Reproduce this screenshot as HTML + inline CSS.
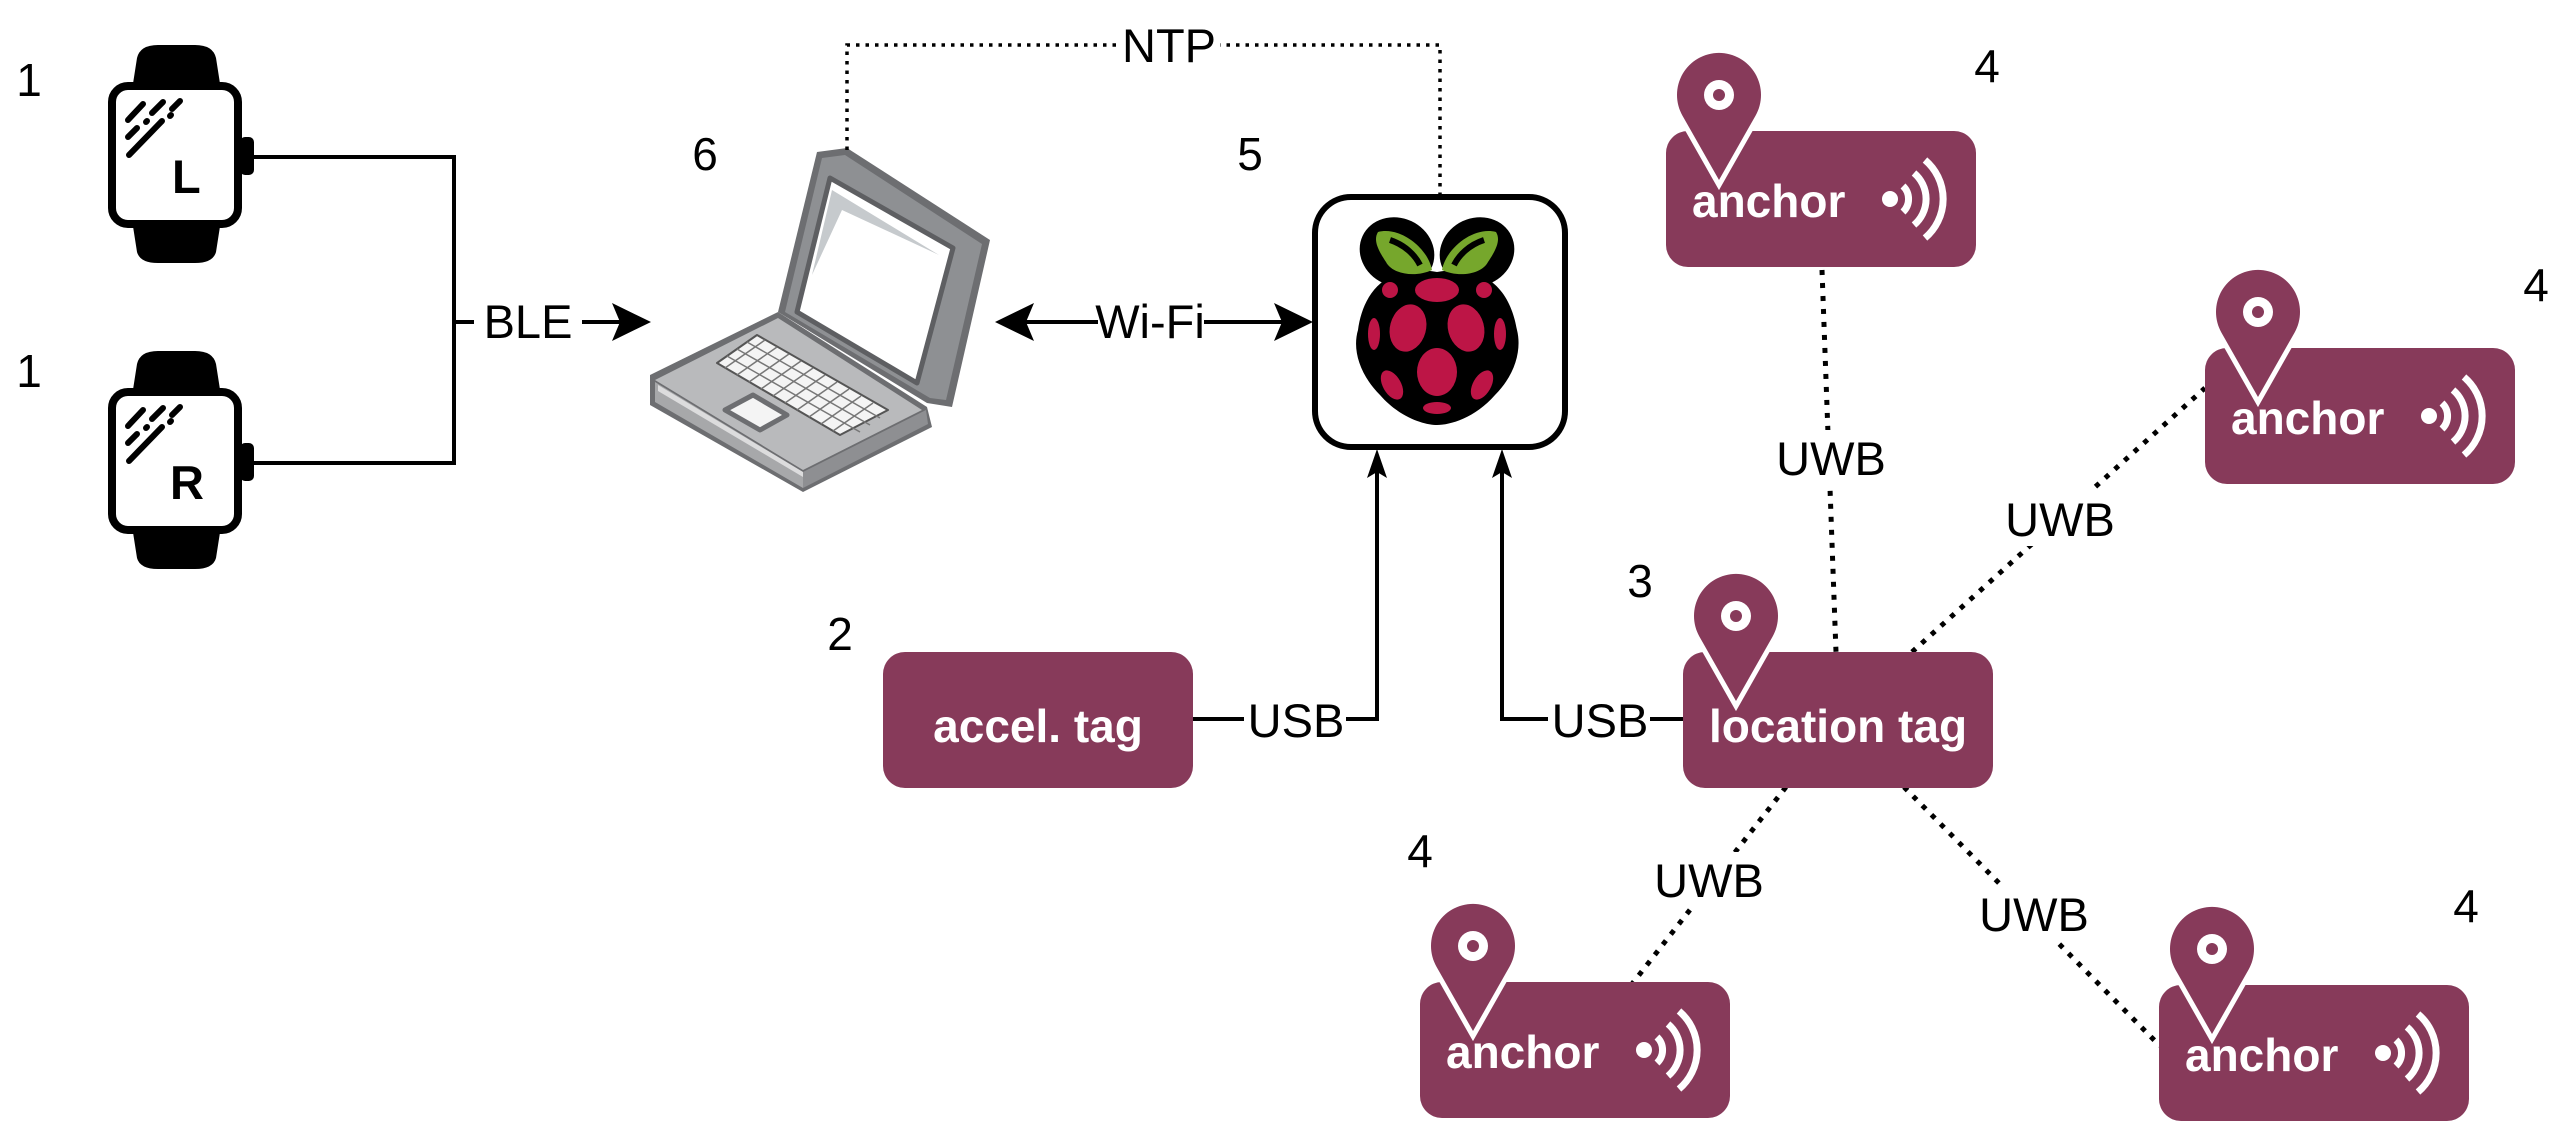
<!DOCTYPE html>
<html><head><meta charset="utf-8"><style>
html,body{margin:0;padding:0;background:#fff;}
svg{display:block;}
text{font-family:"Liberation Sans",sans-serif;}
.lbl{font-size:47px;fill:#000;text-anchor:middle;}
.num{font-size:46px;fill:#000;text-anchor:middle;}
.wt{font-size:46px;font-weight:bold;fill:#fff;}
</style></head><body>
<svg width="2575" height="1142" viewBox="0 0 2575 1142" xmlns="http://www.w3.org/2000/svg">
<defs>
<g id="anchor">
  <rect x="0" y="0" width="310" height="136" rx="22" fill="#873a5a"/>
  <path d="M53,49 L16.5,-15.3 A42,42 0 1 1 89.5,-15.3 Z" fill="#873a5a" stroke="#fff" stroke-width="10" stroke-linejoin="miter" paint-order="stroke"/>
  <circle cx="53" cy="-36" r="15" fill="#fff"/>
  <circle cx="53" cy="-36" r="6" fill="#873a5a"/>
  <text x="26" y="86" class="wt">anchor</text>
  <circle cx="224" cy="68" r="8" fill="#fff"/>
  <g fill="none" stroke="#fff" stroke-width="7">
    <path d="M237,55 A18,18 0 0 1 237,81"/>
    <path d="M248,42 A34,34 0 0 1 248,94"/>
    <path d="M259,29 A51,51 0 0 1 259,107"/>
  </g>
</g>
<g id="watch">
  <path d="M132,90 L137,58 Q140,45 158,45 L195,45 Q213,45 216,58 L221,90 Z" fill="#000"/>
  <path d="M132,220 L137,252 Q140,263 158,263 L195,263 Q213,263 216,252 L221,220 Z" fill="#000"/>
  <rect x="112" y="86" width="126" height="138" rx="16" fill="#fff" stroke="#000" stroke-width="8"/>
  <rect x="240" y="137" width="14" height="38" rx="5" fill="#000"/>
  <g stroke="#000" stroke-width="6" stroke-linecap="round">
    <line x1="128" y1="120" x2="143" y2="104"/>
    <line x1="152" y1="113" x2="163" y2="102"/>
    <line x1="172" y1="109" x2="180" y2="101"/>
    <line x1="128" y1="137" x2="137" y2="128"/>
    <line x1="146" y1="122" x2="147" y2="121"/>
    <line x1="170" y1="116" x2="171" y2="115"/>
    <line x1="129" y1="155" x2="162" y2="121"/>
  </g>
</g>
</defs>

<!-- watches -->
<use href="#watch"/>
<text x="172" y="193" style="font-size:47px;font-weight:bold">L</text>
<use href="#watch" transform="translate(0,306)"/>
<text x="170" y="499" style="font-size:47px;font-weight:bold">R</text>
<text x="29" y="96" class="num">1</text>
<text x="29" y="387" class="num">1</text>

<!-- BLE -->
<g stroke="#000" stroke-width="4" fill="none">
  <polyline points="254,157 454,157 454,463 254,463"/>
  <line x1="454" y1="322" x2="632" y2="322"/>
</g>
<rect x="474" y="300" width="108" height="44" fill="#fff"/>
<text x="528" y="338" class="lbl">BLE</text>
<path d="M651,322 L612,303 L620,322 L612,341 Z" fill="#000"/>

<!-- laptop -->
<g stroke-linejoin="round">
  <path d="M650,375 L778,312 L927,407 L932,427 L803,492 L650,405 Z" fill="#6d6e71"/>
  <path d="M655,380 L778,318 L922,410 L803,470 Z" fill="#b9babc"/>
  <path d="M655,382 L803,472 L803,488 L655,402 Z" fill="#a7a8aa"/>
  <path d="M658,385 L803,472 L803,477 L658,391 Z" fill="#dcdcdd"/>
  <path d="M803,472 L926,410 L928,424 L803,488 Z" fill="#8e8f92"/>
  <path d="M717,363 L757,335 L888,410 L840,435 Z" fill="#f4f4f4" stroke="#555" stroke-width="2"/>
  <g stroke="#777" stroke-width="1.5">
    <line x1="725" y1="368" x2="765" y2="340"/><line x1="737" y1="375" x2="777" y2="347"/>
    <line x1="749" y1="382" x2="789" y2="354"/><line x1="761" y1="389" x2="801" y2="361"/>
    <line x1="773" y1="396" x2="813" y2="368"/><line x1="785" y1="403" x2="825" y2="375"/>
    <line x1="797" y1="410" x2="837" y2="382"/><line x1="809" y1="417" x2="849" y2="389"/>
    <line x1="821" y1="424" x2="861" y2="396"/><line x1="833" y1="431" x2="873" y2="403"/>
    <line x1="727" y1="356" x2="860" y2="432"/><line x1="737" y1="349" x2="870" y2="425"/><line x1="747" y1="342" x2="880" y2="418"/>
  </g>
  <path d="M725,410 L753,395 L787,415 L760,430 Z" fill="#f4f4f4" stroke="#6d6e71" stroke-width="5"/>
  <path d="M817,152 L847,148 L990,240 L952,407 L927,403 L778,312 Z" fill="#6d6e71"/>
  <path d="M822,158 L845,155 L982,244 L946,400 L930,398 L785,312 Z" fill="#8e9093"/>
  <path d="M830,178 L953,248 L917,383 L797,312 Z" fill="#fff" stroke="#5e5f62" stroke-width="5"/>
  <path d="M832,190 L939,255 L842,210 L812,275 Z" fill="#c6cacd"/>
</g>
<text x="705" y="170" class="num">6</text>

<!-- NTP -->
<polyline points="847,150 847,45 1440,45 1440,194" fill="none" stroke="#000" stroke-width="3.5" stroke-dasharray="3.5 6"/>
<rect x="1120" y="24" width="100" height="44" fill="#fff"/>
<text x="1169" y="62" class="lbl">NTP</text>

<!-- Wi-Fi -->
<line x1="1010" y1="322" x2="1295" y2="322" stroke="#000" stroke-width="4"/>
<rect x="1098" y="298" width="106" height="46" fill="#fff"/>
<text x="1150" y="338" class="lbl">Wi-Fi</text>
<path d="M995,322 L1034,303 L1026,322 L1034,341 Z" fill="#000"/>
<path d="M1313,322 L1274,303 L1282,322 L1274,341 Z" fill="#000"/>

<!-- RPi -->
<rect x="1315" y="197" width="250" height="250" rx="36" fill="#fff" stroke="#000" stroke-width="6"/>
<g>
  <ellipse cx="1397" cy="252" rx="38" ry="34" fill="#000" transform="rotate(25 1397 252)"/>
  <ellipse cx="1477" cy="252" rx="38" ry="34" fill="#000" transform="rotate(-25 1477 252)"/>
  <path d="M1437,272 C1380,262 1362,300 1358,330 C1352,350 1360,375 1380,395 C1400,418 1425,425 1437,425 C1450,425 1475,418 1495,395 C1515,375 1522,350 1517,330 C1512,300 1494,262 1437,272 Z" fill="#000"/>
  <path d="M1378,232 C1400,226 1428,248 1432,270 C1415,278 1392,274 1386,262 C1378,250 1373,240 1378,232 Z" fill="#76a72c"/>
  <path d="M1496,232 C1474,226 1446,248 1442,270 C1459,278 1482,274 1488,262 C1496,250 1501,240 1496,232 Z" fill="#76a72c"/>
  <path d="M1390,240 C1405,245 1415,255 1420,265" stroke="#000" stroke-width="6" fill="none"/>
  <path d="M1484,240 C1469,245 1459,255 1454,265" stroke="#000" stroke-width="6" fill="none"/>
  <g fill="#bd1546">
    <ellipse cx="1437" cy="290" rx="22" ry="12"/>
    <ellipse cx="1408" cy="328" rx="18" ry="24" transform="rotate(15 1408 328)"/>
    <ellipse cx="1466" cy="328" rx="18" ry="24" transform="rotate(-15 1466 328)"/>
    <ellipse cx="1437" cy="372" rx="20" ry="24"/>
    <ellipse cx="1374" cy="334" rx="6" ry="16"/>
    <ellipse cx="1500" cy="334" rx="6" ry="16"/>
    <ellipse cx="1392" cy="385" rx="9" ry="16" transform="rotate(-30 1392 385)"/>
    <ellipse cx="1482" cy="385" rx="9" ry="16" transform="rotate(30 1482 385)"/>
    <ellipse cx="1437" cy="408" rx="14" ry="6"/>
    <ellipse cx="1390" cy="290" rx="8" ry="8"/>
    <ellipse cx="1484" cy="290" rx="8" ry="8"/>
  </g>
</g>
<text x="1250" y="170" class="num">5</text>

<!-- USB connections -->
<g stroke="#000" stroke-width="4" fill="none">
  <polyline points="1193,719 1377,719 1377,470"/>
  <polyline points="1685,719 1502,719 1502,470"/>
</g>
<path d="M1377,449 L1367,478 L1377,472 L1387,478 Z" fill="#000"/>
<path d="M1502,449 L1492,478 L1502,472 L1512,478 Z" fill="#000"/>
<rect x="1244" y="696" width="102" height="46" fill="#fff"/>
<text x="1296" y="737" class="lbl">USB</text>
<rect x="1548" y="696" width="102" height="46" fill="#fff"/>
<text x="1600" y="737" class="lbl">USB</text>

<!-- accel tag -->
<rect x="883" y="652" width="310" height="136" rx="22" fill="#873a5a"/>
<text x="1038" y="742" class="wt" text-anchor="middle">accel. tag</text>
<text x="840" y="650" class="num">2</text>

<!-- UWB lines -->
<g stroke="#000" stroke-width="5" stroke-dasharray="5 8" fill="none">
  <line x1="1822" y1="270" x2="1836" y2="652"/>
  <line x1="1912" y1="652" x2="2205" y2="388"/>
  <line x1="1786" y1="787" x2="1632" y2="984"/>
  <line x1="1904" y1="787" x2="2160" y2="1046"/>
</g>

<!-- location tag -->
<rect x="1683" y="652" width="310" height="136" rx="22" fill="#873a5a"/>
<path d="M1736,701 L1699.5,636.7 A42,42 0 1 1 1772.5,636.7 Z" fill="#873a5a" stroke="#fff" stroke-width="10" paint-order="stroke"/>
<circle cx="1736" cy="616" r="15" fill="#fff"/>
<circle cx="1736" cy="616" r="6" fill="#873a5a"/>
<text x="1838" y="742" class="wt" text-anchor="middle">location tag</text>
<text x="1640" y="597" class="num">3</text>

<!-- anchors -->
<use href="#anchor" transform="translate(1666,131)"/>
<use href="#anchor" transform="translate(2205,348)"/>
<use href="#anchor" transform="translate(1420,982)"/>
<use href="#anchor" transform="translate(2159,985)"/>
<text x="1987" y="82" class="num">4</text>
<text x="2536" y="301" class="num">4</text>
<text x="1420" y="867" class="num">4</text>
<text x="2466" y="922" class="num">4</text>

<!-- UWB labels -->
<rect x="1778" y="430" width="106" height="56" fill="#fff"/>
<text x="1831" y="475" class="lbl">UWB</text>
<rect x="2007" y="490" width="106" height="56" fill="#fff"/>
<text x="2060" y="536" class="lbl">UWB</text>
<rect x="1656" y="852" width="106" height="56" fill="#fff"/>
<text x="1709" y="897" class="lbl">UWB</text>
<rect x="1981" y="886" width="106" height="56" fill="#fff"/>
<text x="2034" y="931" class="lbl">UWB</text>
</svg>
</body></html>
